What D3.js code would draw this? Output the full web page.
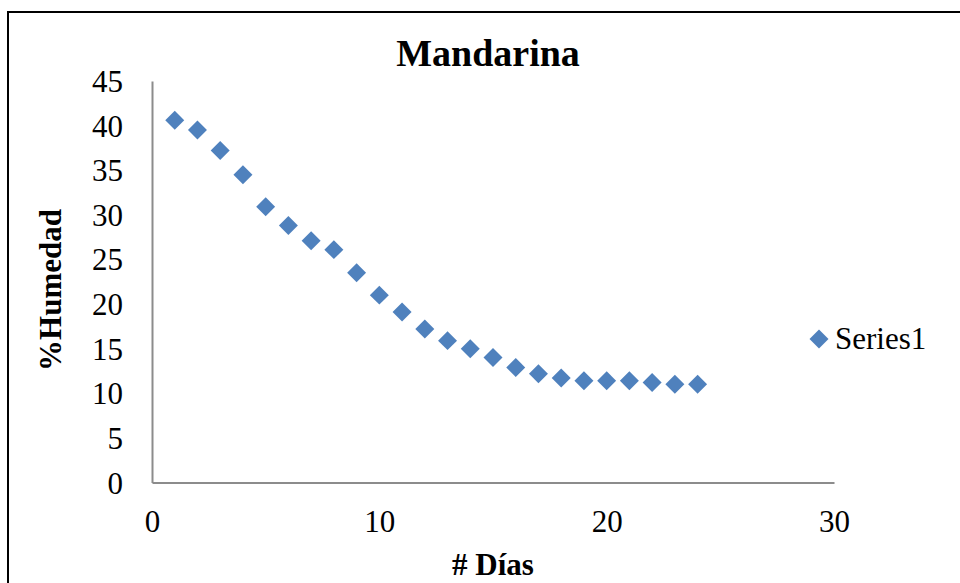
<!DOCTYPE html>
<html lang="es">
<head>
<meta charset="utf-8">
<style>
  body { margin: 0; background: white; }
  svg { font-family: 'Liberation Serif', 'Times New Roman', serif; }
  .axis path { stroke: #8c8c8c; stroke-width: 2px; }
  .axis line { display: none; }
  .axis text { font-size: 31px; fill: black; font-family: 'Liberation Serif', serif; }
  .title { font-size: 38px; font-weight: bold; }
  .axis-title { font-size: 31px; font-weight: bold; }
  .legend { font-size: 31px; }
</style>
</head>
<body>
<svg width="960" height="583"></svg>
<script src="https://d3js.org/d3.v7.min.js"></script>
<script>
const dias = [1, 2, 3, 4, 5, 6, 7, 8, 9, 10, 11, 12, 13, 14, 15, 16, 17, 18, 19, 20, 21, 22, 23, 24]
const humedad = [40.6, 39.5, 37.2, 34.5, 30.9, 28.8, 27.1, 26.1, 23.5, 21.0, 19.1, 17.2,
                 15.9, 15.0, 14.0, 12.9, 12.2, 11.7, 11.4, 11.4, 11.4, 11.2, 11.0, 11.0]
const xTicks = [0, 10, 20, 30]
const yTicks = [0, 5, 10, 15, 20, 25, 30, 35, 40, 45]
const seriesName = "Series1"

const width = 960
const height = 583
const margin = { top: 81, bottom: 100.5, left: 152, right: 126 }
const color = "#4f81bd"

const x = d3.scaleLinear().domain([0, 30]).range([margin.left, width - margin.right])
const y = d3.scaleLinear().domain([0, 45]).range([height - margin.bottom, margin.top])

const svg = d3.select("svg")

// chart frame (right and bottom edges fall outside the picture)
svg.append("rect")
  .attr("x", 8).attr("y", 12)
  .attr("width", 1000).attr("height", 700)
  .attr("fill", "white")
  .attr("stroke", "black")
  .attr("stroke-width", 2)

svg.append("g")
  .attr("class", "axis y")
  .attr("transform", "translate(" + margin.left + ",0)")
  .call(d3.axisLeft(y).tickValues(yTicks).tickSize(0).tickPadding(29))
  .call(g => g.selectAll("text").attr("dy", "0.34em"))

svg.append("g")
  .attr("class", "axis x")
  .attr("transform", "translate(0," + (height - margin.bottom) + ")")
  .call(d3.axisBottom(x).tickValues(xTicks).tickSize(0).tickPadding(27))

const diamond = d3.symbol().type(d3.symbolSquare).size(180)

svg.append("g")
  .selectAll("path")
  .data(dias)
  .join("path")
  .attr("d", diamond)
  .attr("fill", color)
  .attr("transform", (d, i) => "translate(" + x(d) + "," + y(humedad[i]) + ") rotate(45)")

svg.append("text")
  .attr("class", "title")
  .attr("x", 488).attr("y", 66)
  .attr("text-anchor", "middle")
  .text("Mandarina")

svg.append("text")
  .attr("class", "axis-title")
  .attr("x", (x(0) + x(30)) / 2).attr("y", 575)
  .attr("text-anchor", "middle")
  .text("# Días")

svg.append("text")
  .attr("class", "axis-title")
  .attr("transform", "translate(61,290) rotate(-90)")
  .attr("text-anchor", "middle")
  .text("%Humedad")

// legend
const legend = svg.append("g").attr("transform", "translate(819,339)")
legend.append("path").attr("d", diamond).attr("fill", color).attr("transform", "rotate(45)")
legend.append("text").attr("class", "legend").attr("x", 16).attr("y", 10).text(seriesName)
</script>
</body>
</html>
